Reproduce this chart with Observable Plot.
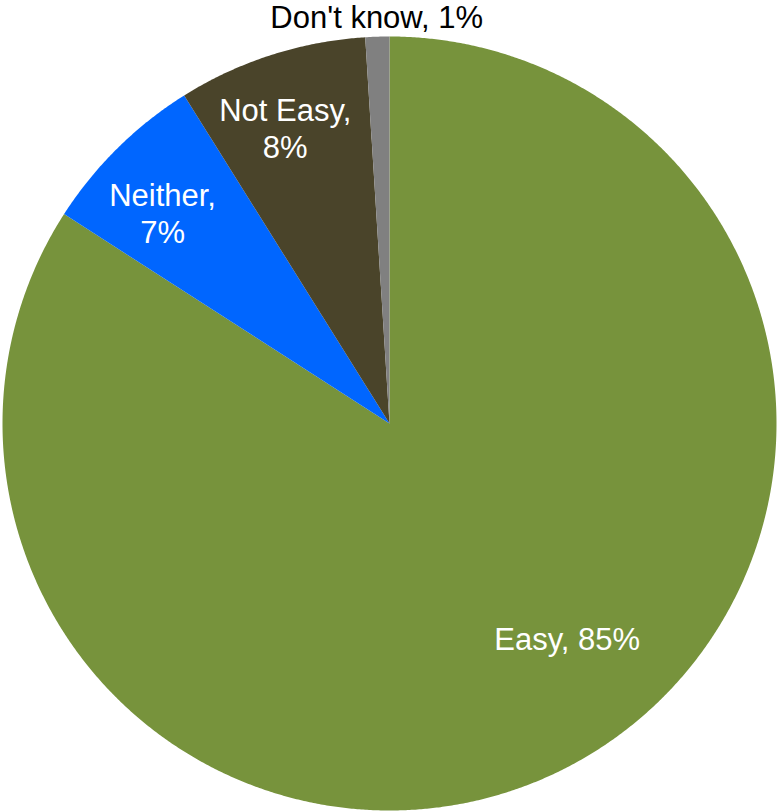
<!DOCTYPE html>
<html>
<head>
<meta charset="utf-8">
<script src="https://cdn.jsdelivr.net/npm/d3@7"></script>
<script src="https://cdn.jsdelivr.net/npm/@observablehq/plot@0.6"></script>
<style>
  html, body { margin: 0; padding: 0; background: #ffffff; }
  #chart svg { display: block; }
</style>
</head>
<body>
<div id="chart"></div>
<script>
// ---- Data ----
const categories = ["Easy", "Neither", "Not Easy", "Don't know"];
const values = [84.1, 7.0, 7.9, 1.0];
const percentLabels = ["85%", "7%", "8%", "1%"];
const colors = ["#77933C", "#0066FF", "#4A442A", "#808080"];

// ---- Layout (not data) ----
const W = 777, H = 812;
const cx = 389, cy = 423, R = 387;
const labelLayout = {
  "Easy":       {r: 0.72, shift: -11, color: "white", text: d => `Easy, ${d}`},
  "Neither":    {r: 0.80, shift: -2.5, color: "white", text: d => `Neither,\n${d}`},
  "Not Easy":   {r: 0.81, shift: -1.6, color: "white", text: d => `Not Easy,\n${d}`},
  "Don't know": {r: 1.052, shift: 0, color: "black", text: d => `Don't know, ${d}`}
};

const table = categories.map((c, i) => ({category: c, value: values[i], label: percentLabels[i]}));
const arcs = d3.pie().sort(null).value(d => d.value)(table);

// polygon outlines for each slice (unit circle, angle clockwise from top)
const slicePts = [];
for (const a of arcs) {
  const cat = a.data.category;
  slicePts.push({category: cat, x: 0, y: 0});
  const n = Math.max(2, Math.ceil((a.endAngle - a.startAngle) / 0.005));
  for (let k = 0; k <= n; k++) {
    const t = a.startAngle + (a.endAngle - a.startAngle) * k / n;
    slicePts.push({category: cat, x: Math.sin(t), y: Math.cos(t)});
  }
  slicePts.push({category: cat, x: 0, y: 0});
}

const labelPts = arcs.map(a => {
  const L = labelLayout[a.data.category];
  const mid = (a.startAngle + a.endAngle) / 2 + L.shift * Math.PI / 180;
  return {
    category: a.data.category,
    x: Math.sin(mid) * L.r,
    y: Math.cos(mid) * L.r,
    text: L.text(a.data.label),
    color: L.color
  };
});

const chart = Plot.plot({
  width: W,
  height: H,
  margin: 0,
  style: {background: "white", fontFamily: "'Liberation Sans', Arial, sans-serif"},
  x: {domain: [-1, 1], range: [cx - R, cx + R], axis: null},
  y: {domain: [-1, 1], range: [cy + R, cy - R], axis: null},
  color: {domain: categories, range: colors, legend: false},
  marks: [
    Plot.line(slicePts, {x: "x", y: "y", z: "category", fill: "category", stroke: "none", curve: "linear"}),
    Plot.text(labelPts, {
      x: "x", y: "y", text: "text",
      fill: d => d.color,
      fontSize: 31,
      lineHeight: 1.2,
      textAnchor: "middle",
      lineAnchor: "middle",
      fontFamily: "'Liberation Sans', Arial, sans-serif"
    })
  ]
});
document.getElementById("chart").appendChild(chart);
</script>
</body>
</html>
